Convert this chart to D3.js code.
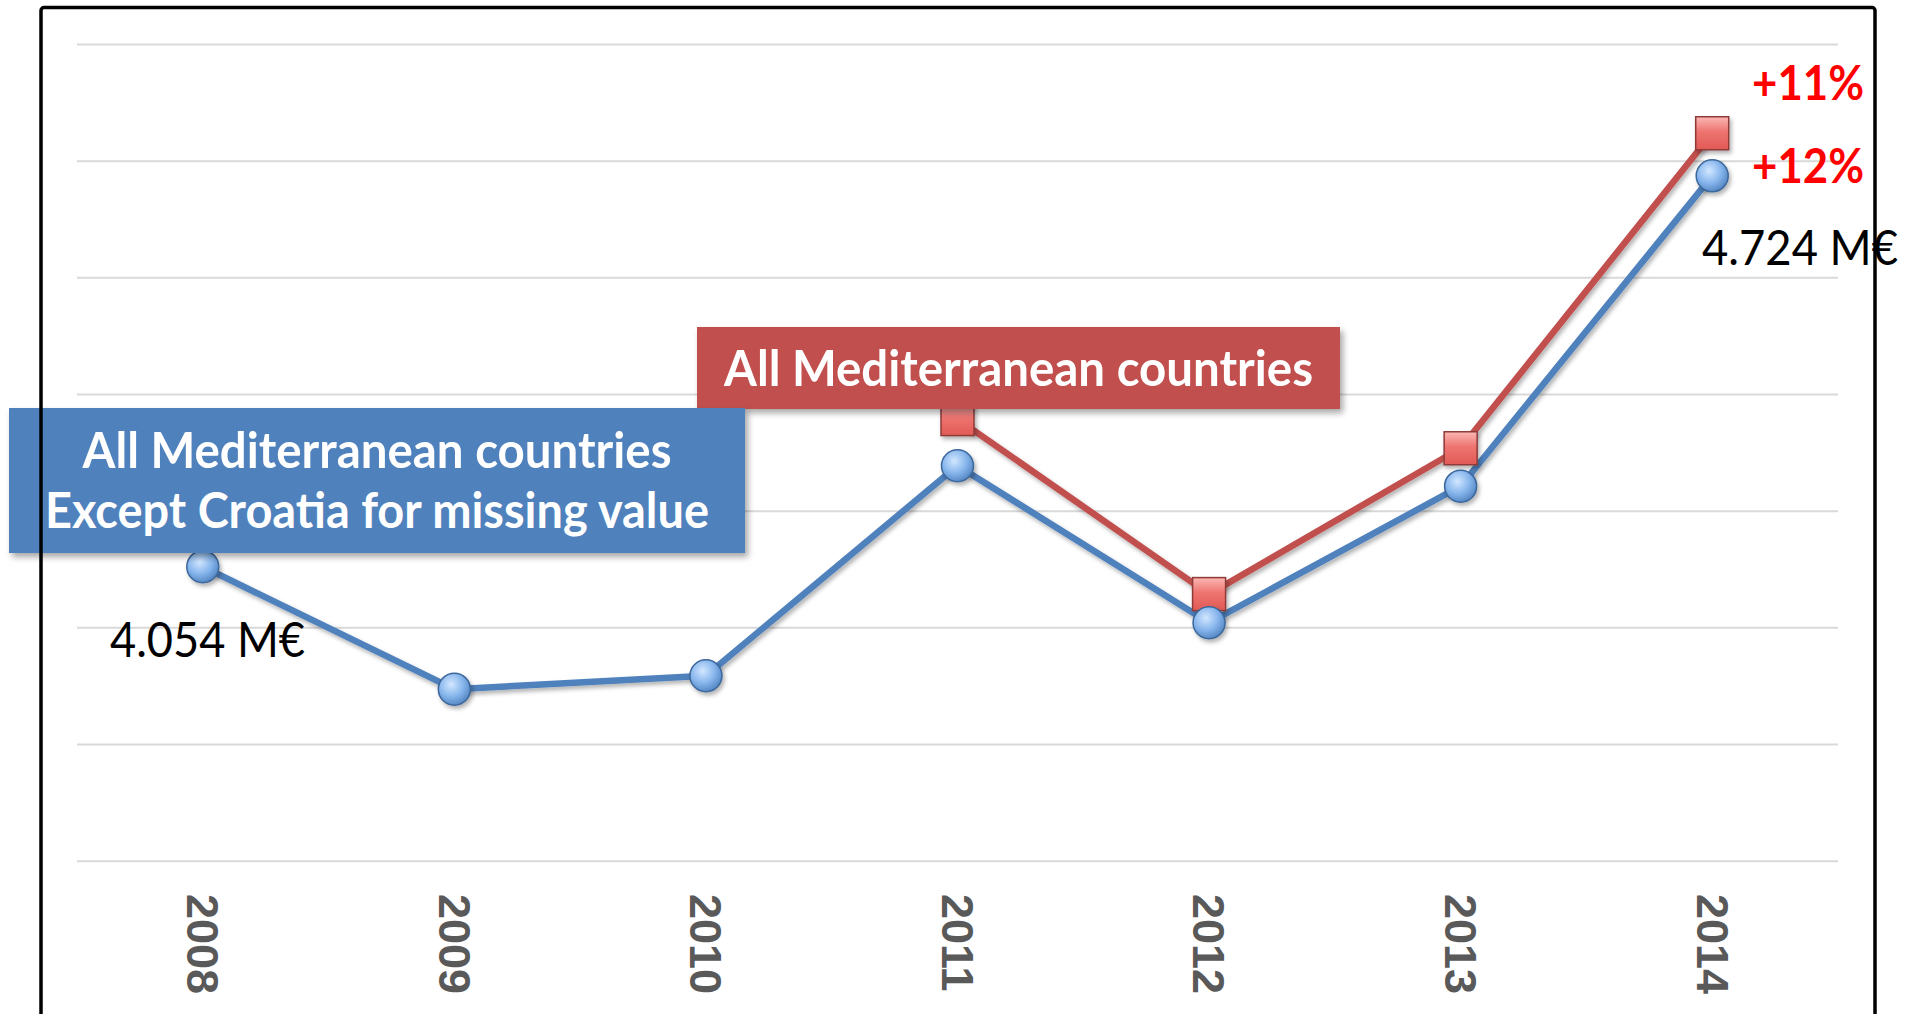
<!DOCTYPE html>
<html>
<head>
<meta charset="utf-8">
<script src="https://cdn.jsdelivr.net/npm/d3@7"></script>
<style>
  body { margin: 0; background: #fff; }
  svg { display: block; }
</style>
</head>
<body>
<svg id="chart"></svg>
<script>
// chart values (M€)
const years = ["2008", "2009", "2010", "2011", "2012", "2013", "2014"];
const allMediterranean = [null, null, null, 4.307, 4.007, 4.257, 4.797];
const exceptCroatia = [4.054, 3.844, 3.867, 4.227, 3.958, 4.192, 4.724];
const gridValues = [3.55, 3.75, 3.95, 4.15, 4.35, 4.55, 4.75, 4.95];
const growthLabels = ["+11%", "+12%"];
const valueLabels = ["4.054 M€", "4.724 M€"];
const boxLabels = {
    red: ["All Mediterranean countries"],
    blue: ["All Mediterranean countries", "Except Croatia for missing value"]
};

const W = 1917, H = 1014;
const svg = d3.select("#chart").attr("width", W).attr("height", H);

const calibri = "Lato, 'Open Sans', sans-serif";

// defs: gradients + shadows
const defs = svg.append("defs");
const bg = defs.append("radialGradient").attr("id", "blueBall")
    .attr("cx", "40%").attr("cy", "35%").attr("r", "70%");
bg.append("stop").attr("offset", "0%").attr("stop-color", "#d2e7ff");
bg.append("stop").attr("offset", "55%").attr("stop-color", "#86b5ec");
bg.append("stop").attr("offset", "100%").attr("stop-color", "#4f81bd");

const rg = defs.append("linearGradient").attr("id", "redBox")
    .attr("x1", 0).attr("y1", 0).attr("x2", 0).attr("y2", 1);
rg.append("stop").attr("offset", "0%").attr("stop-color", "#fbb8b5");
rg.append("stop").attr("offset", "45%").attr("stop-color", "#ee7470");
rg.append("stop").attr("offset", "100%").attr("stop-color", "#e15a56");

const sh = defs.append("filter").attr("id", "shadow")
    .attr("x", "-20%").attr("y", "-20%").attr("width", "140%").attr("height", "160%");
sh.append("feDropShadow").attr("dx", 2).attr("dy", 3).attr("stdDeviation", 2)
    .attr("flood-color", "#000").attr("flood-opacity", 0.3);

const boxSh = defs.append("filter").attr("id", "boxShadow")
    .attr("x", "-5%").attr("y", "-10%").attr("width", "115%").attr("height", "130%");
boxSh.append("feDropShadow").attr("dx", 3).attr("dy", 4).attr("stdDeviation", 3)
    .attr("flood-color", "#000").attr("flood-opacity", 0.35);

// scales
const x = d3.scalePoint().domain(years).range([77, 1838]).padding(0.5);
const y = d3.scaleLinear().domain([3.55, 4.95]).range([860.7, 44]);

// gridlines
const grid = svg.append("g")
    .attr("transform", "translate(77,0)")
    .call(d3.axisLeft(y).tickValues(gridValues).tickSize(-(1838 - 77)).tickFormat(""));
grid.select(".domain").remove();
grid.selectAll(".tick line").attr("stroke", "#d9d9d9").attr("stroke-width", 2);

// x axis labels (rotated, reading downwards)
const xAxis = svg.append("g")
    .attr("transform", "translate(0,894)")
    .call(d3.axisBottom(x).tickSize(0).tickPadding(0));
xAxis.select(".domain").remove();
xAxis.selectAll(".tick text")
    .attr("transform", "rotate(90)")
    .attr("x", 0).attr("y", 0).attr("dy", "0.36em")
    .style("text-anchor", "start")
    .attr("fill", "#595959")
    .attr("font-family", "'Liberation Sans', Arial, sans-serif")
    .attr("font-weight", "bold")
    .attr("font-size", 45);

// series
const line = d3.line()
    .defined(d => d.v != null)
    .x(d => x(d.year))
    .y(d => y(d.v));

const blueData = years.map((yr, i) => ({ year: yr, v: exceptCroatia[i] }));
const redData = years.map((yr, i) => ({ year: yr, v: allMediterranean[i] }));

svg.append("path").datum(redData)
    .attr("d", line).attr("fill", "none")
    .attr("stroke", "#c0504d").attr("stroke-width", 6.5)
    .attr("stroke-linejoin", "round")
    .attr("filter", "url(#shadow)");

svg.append("path").datum(blueData)
    .attr("d", line).attr("fill", "none")
    .attr("stroke", "#4f81bd").attr("stroke-width", 6.5)
    .attr("stroke-linejoin", "round")
    .attr("filter", "url(#shadow)");

svg.selectAll(".redMark")
    .data(redData.filter(d => d.v != null))
    .join("rect")
    .attr("class", "redMark")
    .attr("x", d => x(d.year) - 16.5)
    .attr("y", d => y(d.v) - 16.5)
    .attr("width", 33).attr("height", 33)
    .attr("fill", "url(#redBox)")
    .attr("stroke", "#8e3a38").attr("stroke-width", 1.5)
    .attr("filter", "url(#shadow)");

svg.selectAll(".blueMark")
    .data(blueData)
    .join("circle")
    .attr("class", "blueMark")
    .attr("cx", d => x(d.year))
    .attr("cy", d => y(d.v))
    .attr("r", 16)
    .attr("fill", "url(#blueBall)")
    .attr("stroke", "#3c679c").attr("stroke-width", 1.5)
    .attr("filter", "url(#shadow)");

// squeeze a text element to a target width (Calibri is narrower than Lato)
function fitWidth(t, w) {
    t.attr("textLength", w).attr("lengthAdjust", "spacingAndGlyphs");
}

// label boxes
function labelBox(x0, y0, w, h, fill, lines, baselines, widths) {
    const g = svg.append("g");
    g.append("rect")
        .attr("x", x0).attr("y", y0).attr("width", w).attr("height", h)
        .attr("fill", fill)
        .attr("filter", "url(#boxShadow)");
    lines.forEach((s, i) => {
        const t = g.append("text")
            .attr("x", x0 + w / 2).attr("y", baselines[i])
            .attr("text-anchor", "middle")
            .attr("fill", "#fff")
            .attr("font-family", calibri)
            .attr("font-weight", "bold")
            .attr("font-size", 49)
            .text(s);
        fitWidth(t, widths[i]);
    });
}

labelBox(697, 327, 643, 82, "#c0504d", boxLabels.red, [386], [589]);
labelBox(9, 408, 736, 145, "#4f81bd", boxLabels.blue, [468, 528], [589, 664]);

// value labels
const v1 = svg.append("text")
    .attr("x", 110).attr("y", 657)
    .attr("font-family", calibri).attr("font-size", 48).attr("fill", "#000")
    .text(valueLabels[0]);
fitWidth(v1, 195);

const v2 = svg.append("text")
    .attr("x", 1702).attr("y", 265)
    .attr("font-family", calibri).attr("font-size", 48).attr("fill", "#000")
    .text(valueLabels[1]);
fitWidth(v2, 196);

// growth labels
[100, 183].forEach((by, i) => {
    const t = svg.append("text")
        .attr("x", 1752).attr("y", by)
        .attr("font-family", calibri).attr("font-weight", "bold")
        .attr("font-size", 48).attr("fill", "#ff0000")
        .text(growthLabels[i]);
    fitWidth(t, 112);
});

// outer frame
svg.append("rect")
    .attr("x", 41).attr("y", 7.5)
    .attr("width", 1875 - 41).attr("height", 1100)
    .attr("rx", 3)
    .attr("fill", "none")
    .attr("stroke", "#000").attr("stroke-width", 3.5);
</script>
</body>
</html>
